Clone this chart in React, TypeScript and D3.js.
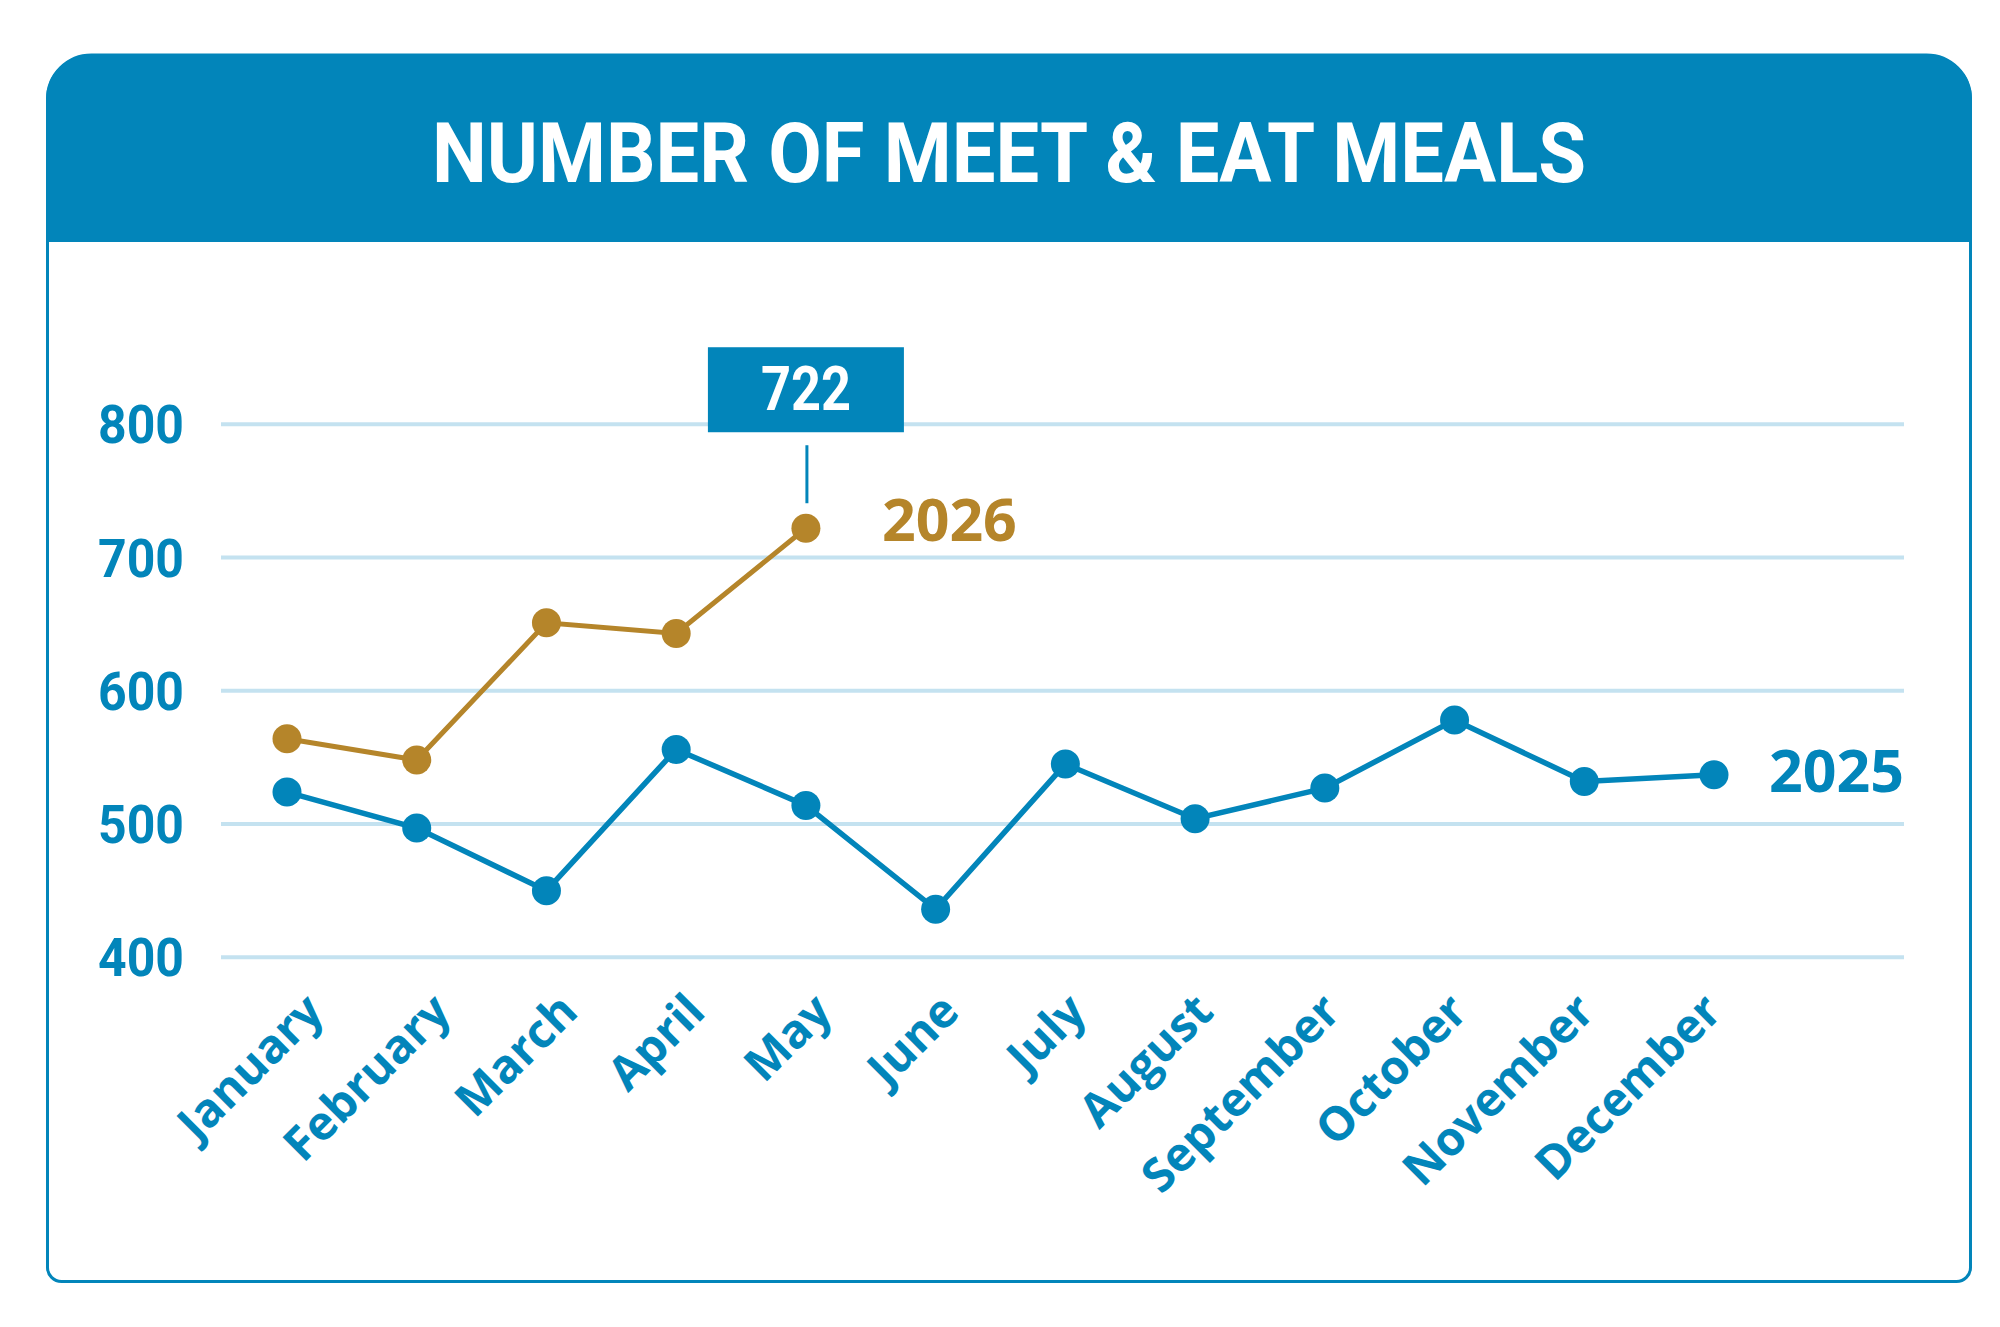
import React from "react";
import * as d3 from "d3";

const months = ["January","February","March","April","May","June","July","August","September","October","November","December"];
const values2025 = [524, 497, 450, 556, 514, 436, 545, 504, 527, 578, 532, 537];
const values2026 = [564, 548, 651, 643, 722];
const yTicks = [400, 500, 600, 700, 800];
const title = "NUMBER OF MEET & EAT MEALS";
const calloutValue = 722;

const BLUE = "#0285BA";
const GOLD = "#B5852A";
const GRID = "#C4E2F0";

export default function App() {
  const W = 2000, H = 1327;
  const x = d3.scalePoint<string>().domain(months).range([287, 1714]);
  const y = d3.scaleLinear().domain([400, 800]).range([957.3, 424.3]);
  const labelX = d3.scalePoint<string>().domain(months).range([326, 1724]);

  const line = d3.line<number>().x((_, i) => x(months[i])!).y((d) => y(d));

  const L = 47.5, R = 1970.5, T = 55, B = 1281.5, rt = 44, rb = 14;
  const cardPath = `M${L},${T + rt} A${rt},${rt} 0 0 1 ${L + rt},${T} H${R - rt} A${rt},${rt} 0 0 1 ${R},${T + rt} V${B - rb} A${rb},${rb} 0 0 1 ${R - rb},${B} H${L + rb} A${rb},${rb} 0 0 1 ${L},${B - rb} Z`;
  const headerPath = `M46,${T + rt} A${rt},${rt} 0 0 1 ${46 + rt},${T} H${1972 - rt} A${rt},${rt} 0 0 1 1972,${T + rt} V242 H46 Z`;

  const mayX = x(months[values2026.length - 1])!;
  const mayY = y(values2026[values2026.length - 1]);
  const decY = y(values2025[11]);

  return (
    <svg width={W} height={H} style={{ position: "absolute", left: 0, top: 0, display: "block", background: "#fff" }}>
      <path d={cardPath} fill="#fff" stroke={BLUE} strokeWidth={3} />
      <path d={headerPath} fill={BLUE} />
      <text x={1009} y={182} textAnchor="middle" fill="#fff" fontFamily="Roboto" fontWeight={700} fontSize={84} textLength={1154} lengthAdjust="spacingAndGlyphs">{title}</text>

      {yTicks.map((t) => (
        <g key={t}>
          <line x1={221} x2={1904} y1={y(t)} y2={y(t)} stroke={GRID} strokeWidth={4} />
          <text x={184} y={y(t) + 19} textAnchor="end" fill={BLUE} fontFamily="Roboto" fontWeight={700} fontSize={53} textLength={86} lengthAdjust="spacingAndGlyphs">{t}</text>
        </g>
      ))}

      {months.map((m) => (
        <text key={m} transform={`translate(${labelX(m)},1014) rotate(-45)`} textAnchor="end" fill={BLUE} fontFamily="'Open Sans'" fontWeight={700} fontSize={47}>{m}</text>
      ))}

      <path d={line(values2025) || ""} fill="none" stroke={BLUE} strokeWidth={5.5} />
      {values2025.map((v, i) => (
        <circle key={"b" + i} cx={x(months[i])} cy={y(v)} r={14.5} fill={BLUE} />
      ))}
      <path d={line(values2026) || ""} fill="none" stroke={GOLD} strokeWidth={5} />
      {values2026.map((v, i) => (
        <circle key={"g" + i} cx={x(months[i])} cy={y(v)} r={14.5} fill={GOLD} />
      ))}

      <text x={mayX + 76} y={mayY + 13} fill={GOLD} fontFamily="'Open Sans'" fontWeight={700} fontSize={59}>2026</text>
      <text x={1904} y={decY + 17} textAnchor="end" fill={BLUE} fontFamily="'Open Sans'" fontWeight={700} fontSize={59}>2025</text>

      <rect x={mayX - 98} y={mayY - 181} width={196} height={85} fill={BLUE} />
      <text x={mayX} y={mayY - 118} textAnchor="middle" fill="#fff" fontFamily="Roboto" fontWeight={700} fontSize={62} textLength={90} lengthAdjust="spacingAndGlyphs">{calloutValue}</text>
      <line x1={mayX + 1} x2={mayX + 1} y1={mayY - 83} y2={mayY - 25} stroke={BLUE} strokeWidth={3} />
    </svg>
  );
}
